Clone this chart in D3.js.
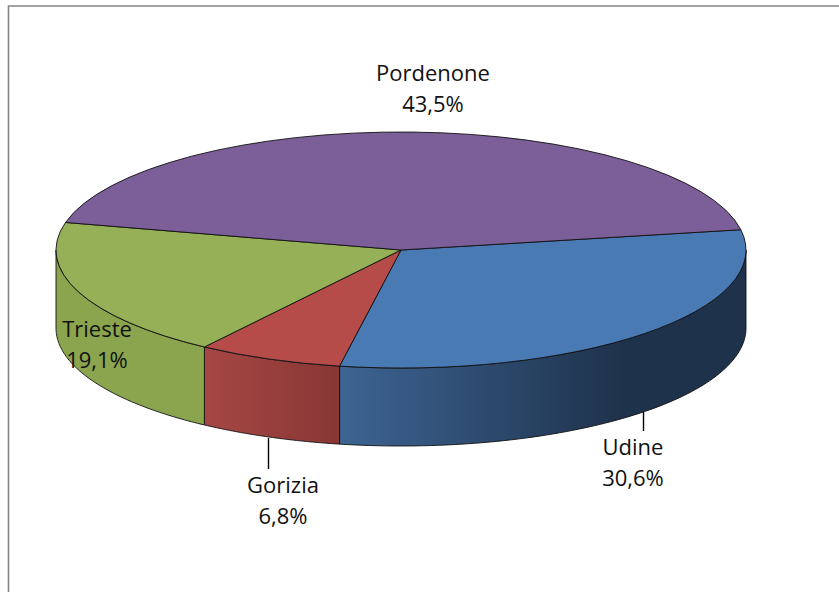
<!DOCTYPE html>
<html lang="en">
<head>
  <meta charset="UTF-8">
  <title>Pie chart</title>
  <script src="https://d3js.org/d3.v7.min.js"></script>
  <style>
    html, body {
      margin: 0;
      background: #fff;
    }

    svg {
      display: block;
    }

    .label {
      font-family: "Open Sans", "Noto Sans", sans-serif;
      font-size: 22px;
      fill: #111;
      text-anchor: middle;
    }
  </style>
</head>
<body>

<svg width="839" height="592"></svg>

<script>
  const provinces = ["Udine", "Gorizia", "Trieste", "Pordenone"];
  const shares = [30.6, 6.8, 19.1, 43.5];
  const topColors = ["#4a7ab4", "#b64c49", "#95b056", "#7c5e98"];
  const wallStops = [
    [["0%", "#3d6493"], ["70%", "#1e324b"], ["100%", "#1e324b"]],
    [["0%", "#a64744"], ["100%", "#883735"]],
    [["0%", "#8aa54e"], ["100%", "#8ba54f"]],
    []
  ];

  const rx = 345, ry = 118, depth = 78;
  const cx = 401, cy = 250;
  const firstAngle = 80.1 * Math.PI / 180;

  // where Excel left each label: centre x, first baseline, leader line
  const labelPlace = {
    Pordenone: {x: 433, y: 81},
    Udine: {x: 633, y: 455, leader: [643, 412, 431]},
    Gorizia: {x: 283, y: 493, leader: [268, 438, 469]},
    Trieste: {x: 97, y: 337}
  };

  const svg = d3.select("svg");
  const defs = svg.append("defs");

  // Frame, only the top and left edges show
  svg.append("path")
    .attr("d", "M8.5,592V6H839")
    .attr("fill", "none")
    .attr("stroke", "#868686")
    .attr("stroke-width", 1.6);

  const pie = d3.pie()
    .sort(null)
    .startAngle(firstAngle)
    .endAngle(firstAngle + 2 * Math.PI);
  const slices = pie(shares);

  // d3 angle: 0 at twelve o'clock, clockwise. Squash the circle into the ellipse.
  const rimX = a => cx + rx * Math.sin(a);
  const rimY = a => cy - ry * Math.cos(a);
  const line = d3.line().curve(d3.curveLinear);

  // Side walls, only the front half of the disc (90 to 270 degrees)
  const frontStart = Math.PI / 2, frontEnd = 3 * Math.PI / 2;
  const wrap = a => a > 2 * Math.PI ? a - 2 * Math.PI : a;

  slices.forEach((d, i) => {
    const a0 = Math.max(wrap(d.startAngle), frontStart);
    const a1 = Math.min(wrap(d.endAngle), frontEnd);
    if (wallStops[i].length === 0 || a1 <= a0) return;

    const n = 80;
    const angles = d3.range(n + 1).map(k => a0 + (a1 - a0) * k / n);
    const upper = angles.map(a => [rimX(a), rimY(a)]);
    const lower = angles.slice().reverse().map(a => [rimX(a), rimY(a) + depth]);

    const xs = upper.map(p => p[0]);
    const grad = defs.append("linearGradient")
      .attr("id", "wall" + i)
      .attr("gradientUnits", "userSpaceOnUse")
      .attr("x1", d3.min(xs)).attr("x2", d3.max(xs))
      .attr("y1", 0).attr("y2", 0);
    wallStops[i].forEach(s => grad.append("stop").attr("offset", s[0]).attr("stop-color", s[1]));

    svg.append("path")
      .attr("d", line(upper.concat(lower)) + "Z")
      .attr("fill", `url(#wall${i})`)
      .attr("stroke", "#111")
      .attr("stroke-width", 0.9);
  });

  // Top face
  const arc = d3.arc().innerRadius(0).outerRadius(rx);
  svg.append("g")
    .attr("transform", `translate(${cx},${cy}) scale(1,${ry / rx})`)
    .selectAll("path")
    .data(slices)
    .enter()
    .append("path")
    .attr("d", arc)
    .attr("fill", (d, i) => topColors[i])
    .attr("stroke", "#111")
    .attr("stroke-width", 0.9)
    .attr("vector-effect", "non-scaling-stroke");

  // Labels
  provinces.forEach((name, i) => {
    const p = labelPlace[name];
    if (p.leader) {
      svg.append("line")
        .attr("x1", p.leader[0] + 0.5).attr("x2", p.leader[0] + 0.5)
        .attr("y1", p.leader[1]).attr("y2", p.leader[2])
        .attr("stroke", "#000")
        .attr("stroke-width", 1.4);
    }
    svg.append("text").attr("class", "label")
      .attr("x", p.x).attr("y", p.y)
      .text(name);
    svg.append("text").attr("class", "label")
      .attr("x", p.x).attr("y", p.y + 31)
      .text(shares[i].toFixed(1).replace(".", ",") + "%");
  });
</script>

</body>
</html>
